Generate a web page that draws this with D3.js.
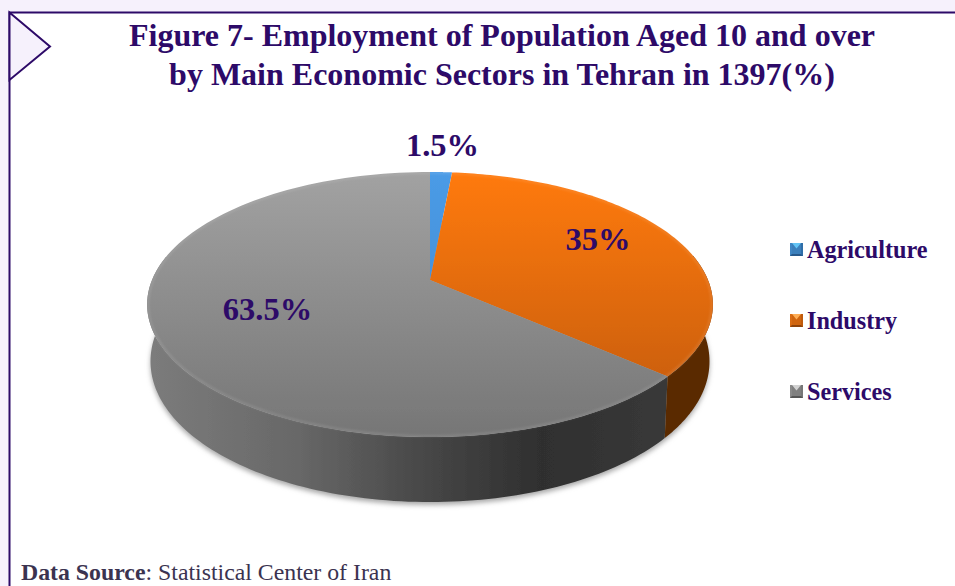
<!DOCTYPE html>
<html>
<head>
<meta charset="utf-8">
<script src="https://cdnjs.cloudflare.com/ajax/libs/d3/7.8.5/d3.min.js"></script>
<style>
html,body{margin:0;padding:0;background:#f6f1fc;overflow:hidden}
svg{display:block}
text{font-family:"Liberation Serif",serif}
</style>
</head>
<body>
<svg id="chart" width="955" height="586"></svg>
<script>
const sectors = ["Agriculture", "Industry", "Services"];
const shares = [1.5, 35, 63.5];
const shareLabels = ["1.5%", "35%", "63.5%"];
const topColors = [["#4b9be6", "#3f86cc"], ["#ff7a10", "#bf590e"], ["#a2a2a2", "#767676"]];
const sideColors = ["#2c5f96", "#5a2a02", "#4a4a4a"];
const bevelColors = [
  {top:"#62c4f5", left:"#3f86c4", right:"#2f6ea8", bottom:"#27598c", mid:"#3b7fbb"},
  {top:"#ffae55", left:"#d96c14", right:"#c05a0c", bottom:"#8f430a", mid:"#d0650f"},
  {top:"#d2d2d2", left:"#8a8a8a", right:"#777777", bottom:"#565656", mid:"#808080"}
];
const titleLines = ["Figure 7- Employment of Population Aged 10 and over", "by Main Economic Sectors in Tehran in 1397(%)"];
const ink = "#2d0a68";

const svg = d3.select("#chart");
const defs = svg.append("defs");

// Page frame: lavender margin, white panel, corner tab
svg.append("rect").attr("x", 10).attr("y", 12).attr("width", 945).attr("height", 574).attr("fill", "#fff");
svg.append("path").attr("d", "M9.5 586V12.5H955").attr("fill", "none").attr("stroke", ink).attr("stroke-width", 2);
svg.append("path").attr("d", "M9.5 12.5L50 46.5L9.5 80Z").attr("fill", "#f6f1fc").attr("stroke", ink).attr("stroke-width", 2);

svg.selectAll("text.title").data(titleLines).join("text")
  .attr("class", "title").attr("x", 502).attr("y", (d, i) => 46 + i * 38.5)
  .attr("text-anchor", "middle").attr("font-weight", "bold").attr("font-size", 32)
  .attr("fill", ink).text(d => d);

// Tilted disc: a unit circle seen in perspective, so the apex sits above the outline's centre
const cx = 430, apexY = 280, spanX = 278, spanY = 128, persp = 0.185;
const project = a => {
  const u = Math.sin(a), v = -Math.cos(a), w = 1 - persp * v;
  return [cx + spanX * u / w, apexY + spanY * v / w];
};
const depthAt = a => 55 + 10 * (-Math.cos(a));
const lower = a => {
  const [x, y] = project(a);
  return [cx + (x - cx) * 0.988, y + depthAt(a)];
};
const sweep = (a0, a1, f) => d3.range(0, 121).map(i => f(a0 + (a1 - a0) * i / 120));
const line = d3.line();

const pie = d3.pie().sort(null)(shares);

const rimGradient = defs.append("linearGradient").attr("id", "rim")
  .attr("gradientUnits", "userSpaceOnUse").attr("x1", 147).attr("x2", 680).attr("y1", 0).attr("y2", 0);
[[0, "#7c7c7c"], [0.28, "#686868"], [0.53, "#464646"], [0.74, "#2f2f2f"], [1, "#3a3a3a"]]
  .forEach(([o, c]) => rimGradient.append("stop").attr("offset", o).attr("stop-color", c));

pie.forEach((d, i) => {
  const g = defs.append("linearGradient").attr("id", "face" + i)
    .attr("gradientUnits", "userSpaceOnUse").attr("x1", 0).attr("x2", 0).attr("y1", 172).attr("y2", 437);
  g.append("stop").attr("offset", 0).attr("stop-color", topColors[i][0]);
  g.append("stop").attr("offset", 1).attr("stop-color", topColors[i][1]);
});

const soft = defs.append("filter").attr("id", "soft").attr("x", "-10%").attr("y", "-10%").attr("width", "120%").attr("height", "130%");
soft.append("feGaussianBlur").attr("stdDeviation", 2.5);
const edge = defs.append("filter").attr("id", "edge").attr("x", "-5%").attr("y", "-5%").attr("width", "110%").attr("height", "110%");
edge.append("feGaussianBlur").attr("stdDeviation", 0.6);
const glow = defs.append("filter").attr("id", "glow").attr("x", "-5%").attr("y", "-5%").attr("width", "110%").attr("height", "110%");
glow.append("feGaussianBlur").attr("stdDeviation", 1);

// Soft ground shadow hugging the lower rim
svg.append("path")
  .attr("d", line(sweep(0, 2 * Math.PI, lower)) + "Z")
  .attr("transform", "translate(0,3)")
  .attr("fill", "#a8a8a8").attr("filter", "url(#soft)");

// Side wall, only the slices that wrap the visible front
const sideGroup = svg.append("g").attr("filter", "url(#edge)");
pie.slice().reverse().forEach(d => {
  const i = d.index;
  const a0 = Math.max(d.startAngle, Math.PI / 2 - 0.2);
  const a1 = Math.min(d.endAngle, 2 * Math.PI * 0.78);
  if (a1 <= a0) return;
  const path = sweep(a0, a1, project).concat(sweep(a1, a0, lower));
  sideGroup.append("path").attr("d", line(path) + "Z")
    .attr("fill", i === 2 ? "url(#rim)" : sideColors[i]);
});

// Top faces
const faceGroup = svg.append("g").attr("filter", "url(#edge)");
faceGroup.selectAll("path").data(pie).join("path")
  .attr("d", d => line([[cx, apexY]].concat(sweep(d.startAngle, d.endAngle, project))) + "Z")
  .attr("fill", d => `url(#face${d.index})`);

// Bevel: a pale band just inside the outer edge of each face
svg.append("g").attr("filter", "url(#glow)")
  .selectAll("path").data(pie).join("path")
  .attr("d", d => line(sweep(d.startAngle, d.endAngle, a => {
    const [x, y] = project(a);
    return [cx + (x - cx) * 0.996, y + (apexY + 24 - y) * 0.008];
  })))
  .attr("fill", "none").attr("stroke", "#fff").attr("stroke-opacity", 0.14).attr("stroke-width", 1.6);

// Value labels
const labelX = [442.5, 598, 267.5], labelY = [156, 250, 320];
svg.selectAll("text.value").data(shareLabels).join("text")
  .attr("class", "value").attr("x", (d, i) => labelX[i]).attr("y", (d, i) => labelY[i])
  .attr("text-anchor", "middle").attr("font-weight", "bold").attr("font-size", 32.5)
  .attr("fill", ink).text(d => d);

// Legend with bevelled swatches
const legendY = d3.scalePoint().domain(sectors).range([250, 392]);
const legend = svg.selectAll("g.key").data(sectors).join("g")
  .attr("class", "key").attr("transform", d => `translate(790,${legendY(d)})`);
legend.each(function (d, i) {
  const g = d3.select(this), c = bevelColors[i], s = 13, b = 2;
  const y0 = -7;
  const poly = (pts, fill) => g.append("polygon").attr("points", pts.map(p => [p[0], p[1] + y0].join(",")).join(" ")).attr("fill", fill);
  poly([[0, 0], [s, 0], [s, s], [0, s]], c.mid);
  poly([[b, 0], [s - b, 0], [s / 2, s / 2 - 1]], c.top);
  poly([[0, 0], [b, 0], [b, s - b], [0, s]], c.left);
  poly([[s, 0], [s - b, 0], [s - b, s - b], [s, s]], c.right);
  poly([[0, s], [s, s], [s - b, s - b], [b, s - b]], c.bottom);
  g.append("text").attr("x", 17).attr("y", 8).attr("font-weight", "bold").attr("font-size", 24.2)
    .attr("fill", ink).text(d);
});

// Source note at the foot of the page
const note = svg.append("text").attr("x", 21).attr("y", 580).attr("font-size", 23.8).attr("fill", "#3b3350");
note.append("tspan").attr("font-weight", "bold").text("Data Source");
note.append("tspan").text(": Statistical Center of Iran");
</script>
</body>
</html>
